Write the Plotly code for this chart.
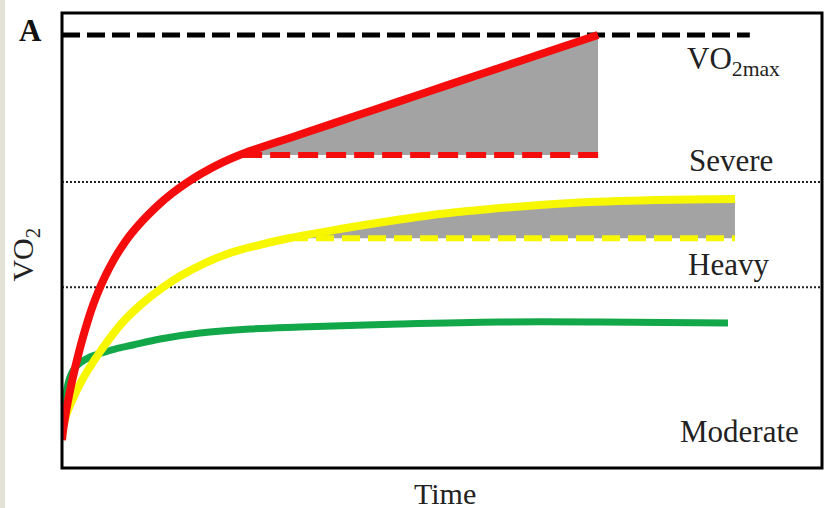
import numpy as np
import plotly.graph_objects as go

# ---- data (time and VO2 in arbitrary 0-100 units) ----
red_t = [0, 0.132, 0.329, 0.658, 1.184, 1.842, 2.632, 3.421, 4.079, 4.737, 5.789, 6.842, 7.895,
         8.947, 10.526, 12.5, 14.474, 16.447, 18.421, 21.053, 23.684, 31.316, 37.895, 44.474,
         51.053, 57.632, 64.211, 70.526]
red_v = [6.15, 8.13, 10.33, 13.63, 18.02, 22.86, 28.0, 32.48, 35.78, 38.64, 42.51, 45.85, 48.70,
         51.16, 54.24, 57.54, 60.35, 62.73, 64.77, 67.10, 69.03, 73.30, 76.97, 80.64,
         84.31, 87.98, 91.65, 95.16]

yel_t = [0, 0.066, 0.263, 0.526, 0.789, 1.579, 2.5, 3.421, 5.263, 7.895, 10.526, 13.158, 15.789,
         18.816, 22.105, 25.395, 30.0, 36.579, 43.158, 49.737, 56.316, 62.895, 69.474, 76.053,
         82.632, 88.553]
yel_v = [6.15, 8.02, 9.89, 11.54, 12.75, 15.78, 18.86, 21.54, 26.15, 31.87, 36.13, 39.56, 42.42,
         45.05, 47.25, 48.79, 50.55, 52.53, 54.29, 55.82, 56.92, 57.80, 58.46, 58.79,
         59.01, 59.12]

grn_t = [0, 0.066, 0.197, 0.395, 0.658, 1.053, 1.579, 2.368, 3.684, 5.0, 6.974, 9.342, 12.895,
         18.158, 24.737, 31.316, 44.474, 57.632, 70.789, 87.632]
grn_v = [6.15, 9.45, 12.31, 14.95, 17.58, 20.0, 21.76, 23.08, 24.40, 25.16, 26.15, 27.03, 28.35,
         29.67, 30.55, 30.99, 31.65, 32.09, 32.09, 31.87]

vo2max_level = 95.16
vo2max_end = 90.5
severe_level = 62.86
heavy_level = 39.7
red_base = 68.8
red_base_start = 23.7
red_base_end = 70.8
yel_base = 50.5
yel_base_start = 30.0
yel_base_end = 88.55

labels = ["VO<sub>2max</sub>", "Severe", "Heavy", "Moderate"]
label_x = [82.0, 82.2, 82.1, 81.05]
label_y = [89.5, 67.5, 44.8, 8.1]

RED = "#f50d0d"
YEL = "#f7f700"
GRN = "#12a84a"
GRAY = "#a3a3a3"
FONT = "Liberation Serif"

fig = go.Figure()


def fill_poly(t, v, base, t_end):
    t = np.array(t, float)
    v = np.array(v, float)
    t0 = float(np.interp(base, v, t))
    m = (v > base) & (t <= t_end)
    xs = [t0] + list(t[m]) + [t_end, t0]
    ys = [base] + list(v[m]) + [base, base]
    return xs, ys


# shaded O2 slow components
for (t, v, base, tend) in [(red_t, red_v, red_base, red_t[-1]), (yel_t, yel_v, yel_base, yel_t[-1])]:
    xs, ys = fill_poly(t, v, base, tend)
    fig.add_trace(go.Scatter(x=xs, y=ys, fill="toself", fillcolor=GRAY, mode="none",
                             hoverinfo="skip", showlegend=False))

# dotted domain boundaries
for lvl in [severe_level, heavy_level]:
    fig.add_trace(go.Scatter(x=[0, 100], y=[lvl, lvl], mode="lines",
                             line=dict(color="#222222", width=2, dash="2px,2px"),
                             showlegend=False, hoverinfo="skip"))

# VO2max dashed
fig.add_trace(go.Scatter(x=[0, vo2max_end], y=[vo2max_level, vo2max_level], mode="lines",
                         line=dict(color="black", width=5, dash="18px,7px"),
                         showlegend=False, hoverinfo="skip"))

# baselines dashed
fig.add_trace(go.Scatter(x=[red_base_start, red_base_end], y=[red_base, red_base], mode="lines",
                         line=dict(color=RED, width=6, dash="20px,8px"),
                         showlegend=False, hoverinfo="skip"))
fig.add_trace(go.Scatter(x=[yel_base_start, yel_base_end], y=[yel_base, yel_base], mode="lines",
                         line=dict(color=YEL, width=6, dash="18px,8px"),
                         showlegend=False, hoverinfo="skip"))

# curves
fig.add_trace(go.Scatter(x=grn_t, y=grn_v, mode="lines", line=dict(color=GRN, width=7, shape="spline"),
                         showlegend=False, hoverinfo="skip"))
fig.add_trace(go.Scatter(x=yel_t, y=yel_v, mode="lines", line=dict(color=YEL, width=8, shape="spline"),
                         showlegend=False, hoverinfo="skip"))
fig.add_trace(go.Scatter(x=red_t, y=red_v, mode="lines", line=dict(color=RED, width=8, shape="spline"),
                         showlegend=False, hoverinfo="skip"))

# domain labels
for txt, lx, ly in zip(labels, label_x, label_y):
    fig.add_annotation(x=lx, y=ly, text=txt, showarrow=False, xanchor="left", yanchor="middle",
                       font=dict(family=FONT, size=31, color="#222222"))

# axis titles and panel letter
fig.add_annotation(x=0.504, y=-0.057, xref="paper", yref="paper", text="Time", showarrow=False,
                   xanchor="center", yanchor="middle", font=dict(family=FONT, size=30, color="#222222"))
fig.add_annotation(x=-0.048, y=0.468, xref="paper", yref="paper", text="VO<sub>2</sub>", showarrow=False,
                   textangle=-90, xanchor="center", yanchor="middle",
                   font=dict(family=FONT, size=30, color="#222222"))
fig.add_annotation(x=-0.041, y=0.962, xref="paper", yref="paper", text="<b>A</b>", showarrow=False,
                   xanchor="center", yanchor="middle", font=dict(family=FONT, size=31, color="#111111"))

# frame and left strip
fig.add_shape(type="rect", xref="paper", yref="paper", x0=0, y0=0, x1=1, y1=1,
              line=dict(color="black", width=3), layer="above")
fig.add_shape(type="rect", xref="paper", yref="paper", x0=-0.0816, x1=-0.0750, y0=-0.09, y1=1.03,
              line=dict(width=0), fillcolor="#e4e1d9", layer="below")

fig.update_xaxes(range=[0, 100], visible=False)
fig.update_yaxes(range=[0, 100], visible=False)
fig.update_layout(width=824, height=508, margin=dict(l=62, r=2, t=13, b=40),
                  paper_bgcolor="white", plot_bgcolor="white")

fig.write_html("out.html", config={"displayModeBar": False},
               post_script="document.body.style.margin='0';document.body.style.overflow='hidden';")
